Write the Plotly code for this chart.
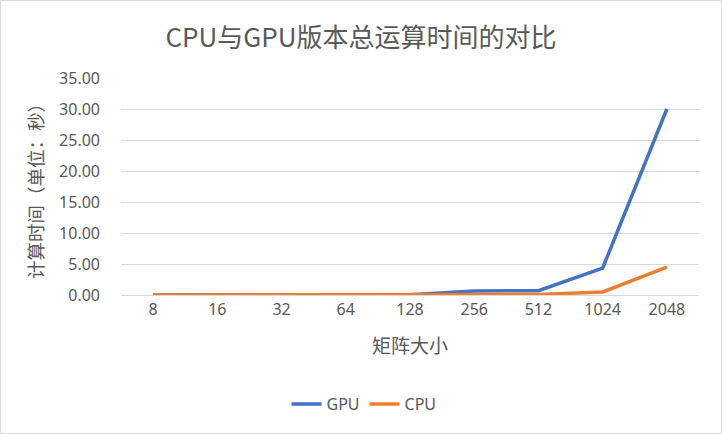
import plotly.graph_objects as go

categories = ["8", "16", "32", "64", "128", "256", "512", "1024", "2048"]
gpu = [0.02, 0.02, 0.02, 0.02, 0.05, 0.65, 0.7, 4.35, 30.0]
cpu = [0.0, 0.0, 0.0, 0.0, 0.01, 0.03, 0.08, 0.5, 4.5]
yticks = [0, 5, 10, 15, 20, 25, 30, 35]

W, H = 722, 434
ml, mr, mt, mb = 121, 23, 78, 139
font = "Noto Sans"
cjk = "Noto Sans CJK SC"

fig = go.Figure()
fig.add_trace(go.Scatter(x=categories, y=gpu, name="GPU", mode="lines",
                         line=dict(color="#4472C4", width=3.5)))
fig.add_trace(go.Scatter(x=categories, y=cpu, name="CPU", mode="lines",
                         line=dict(color="#ED7D31", width=3.5)))

pw = W - ml - mr
ph = H - mt - mb
fig.add_shape(type="rect", xref="paper", yref="paper",
              x0=(-ml + 0.5) / pw, x1=(W - ml - 0.5) / pw,
              y0=(-mb + 0.5) / ph, y1=(H - mb - 0.5) / ph,
              line=dict(color="#D9D9D9", width=1), fillcolor="rgba(0,0,0,0)")

fig.update_layout(
    width=W, height=H,
    margin=dict(l=ml, r=mr, t=mt, b=mb),
    paper_bgcolor="white", plot_bgcolor="white",
    font=dict(family=font, color="#595959", size=16),
    title=dict(text="CPU与GPU版本总运算时间的对比", x=0.5, xref="container",
               y=1 - 38 / H, yanchor="middle",
               font=dict(size=26, color="#595959", family=cjk)),
    showlegend=True,
    legend=dict(orientation="h", x=(364 - ml) / pw, xanchor="center", xref="paper",
                y=-(404 - 295) / ph, yanchor="middle",
                font=dict(size=16, color="#595959", family=font),
                tracegroupgap=0),
    xaxis=dict(type="category", range=[-0.5, 8.5], showgrid=False,
               showline=True, linecolor="#D9D9D9", linewidth=1,
               ticks="", tickfont=dict(size=16, color="#595959", family=font),
               title=dict(text="矩阵大小", standoff=20,
                          font=dict(size=19, color="#595959", family=cjk))),
    yaxis=dict(range=[0, 35], tickvals=yticks,
               ticktext=[f"{v:.2f}" for v in yticks],
               showgrid=True, gridcolor="#D9D9D9", gridwidth=1,
               zeroline=False, showline=False, ticks="",
               ticklabelstandoff=20,
               tickfont=dict(size=16, color="#595959", family=font),
               title=dict(text="计算时间（单位：秒）", standoff=10,
                          font=dict(size=18.5, color="#595959", family=cjk))),
)

fig.write_html("out.html")
